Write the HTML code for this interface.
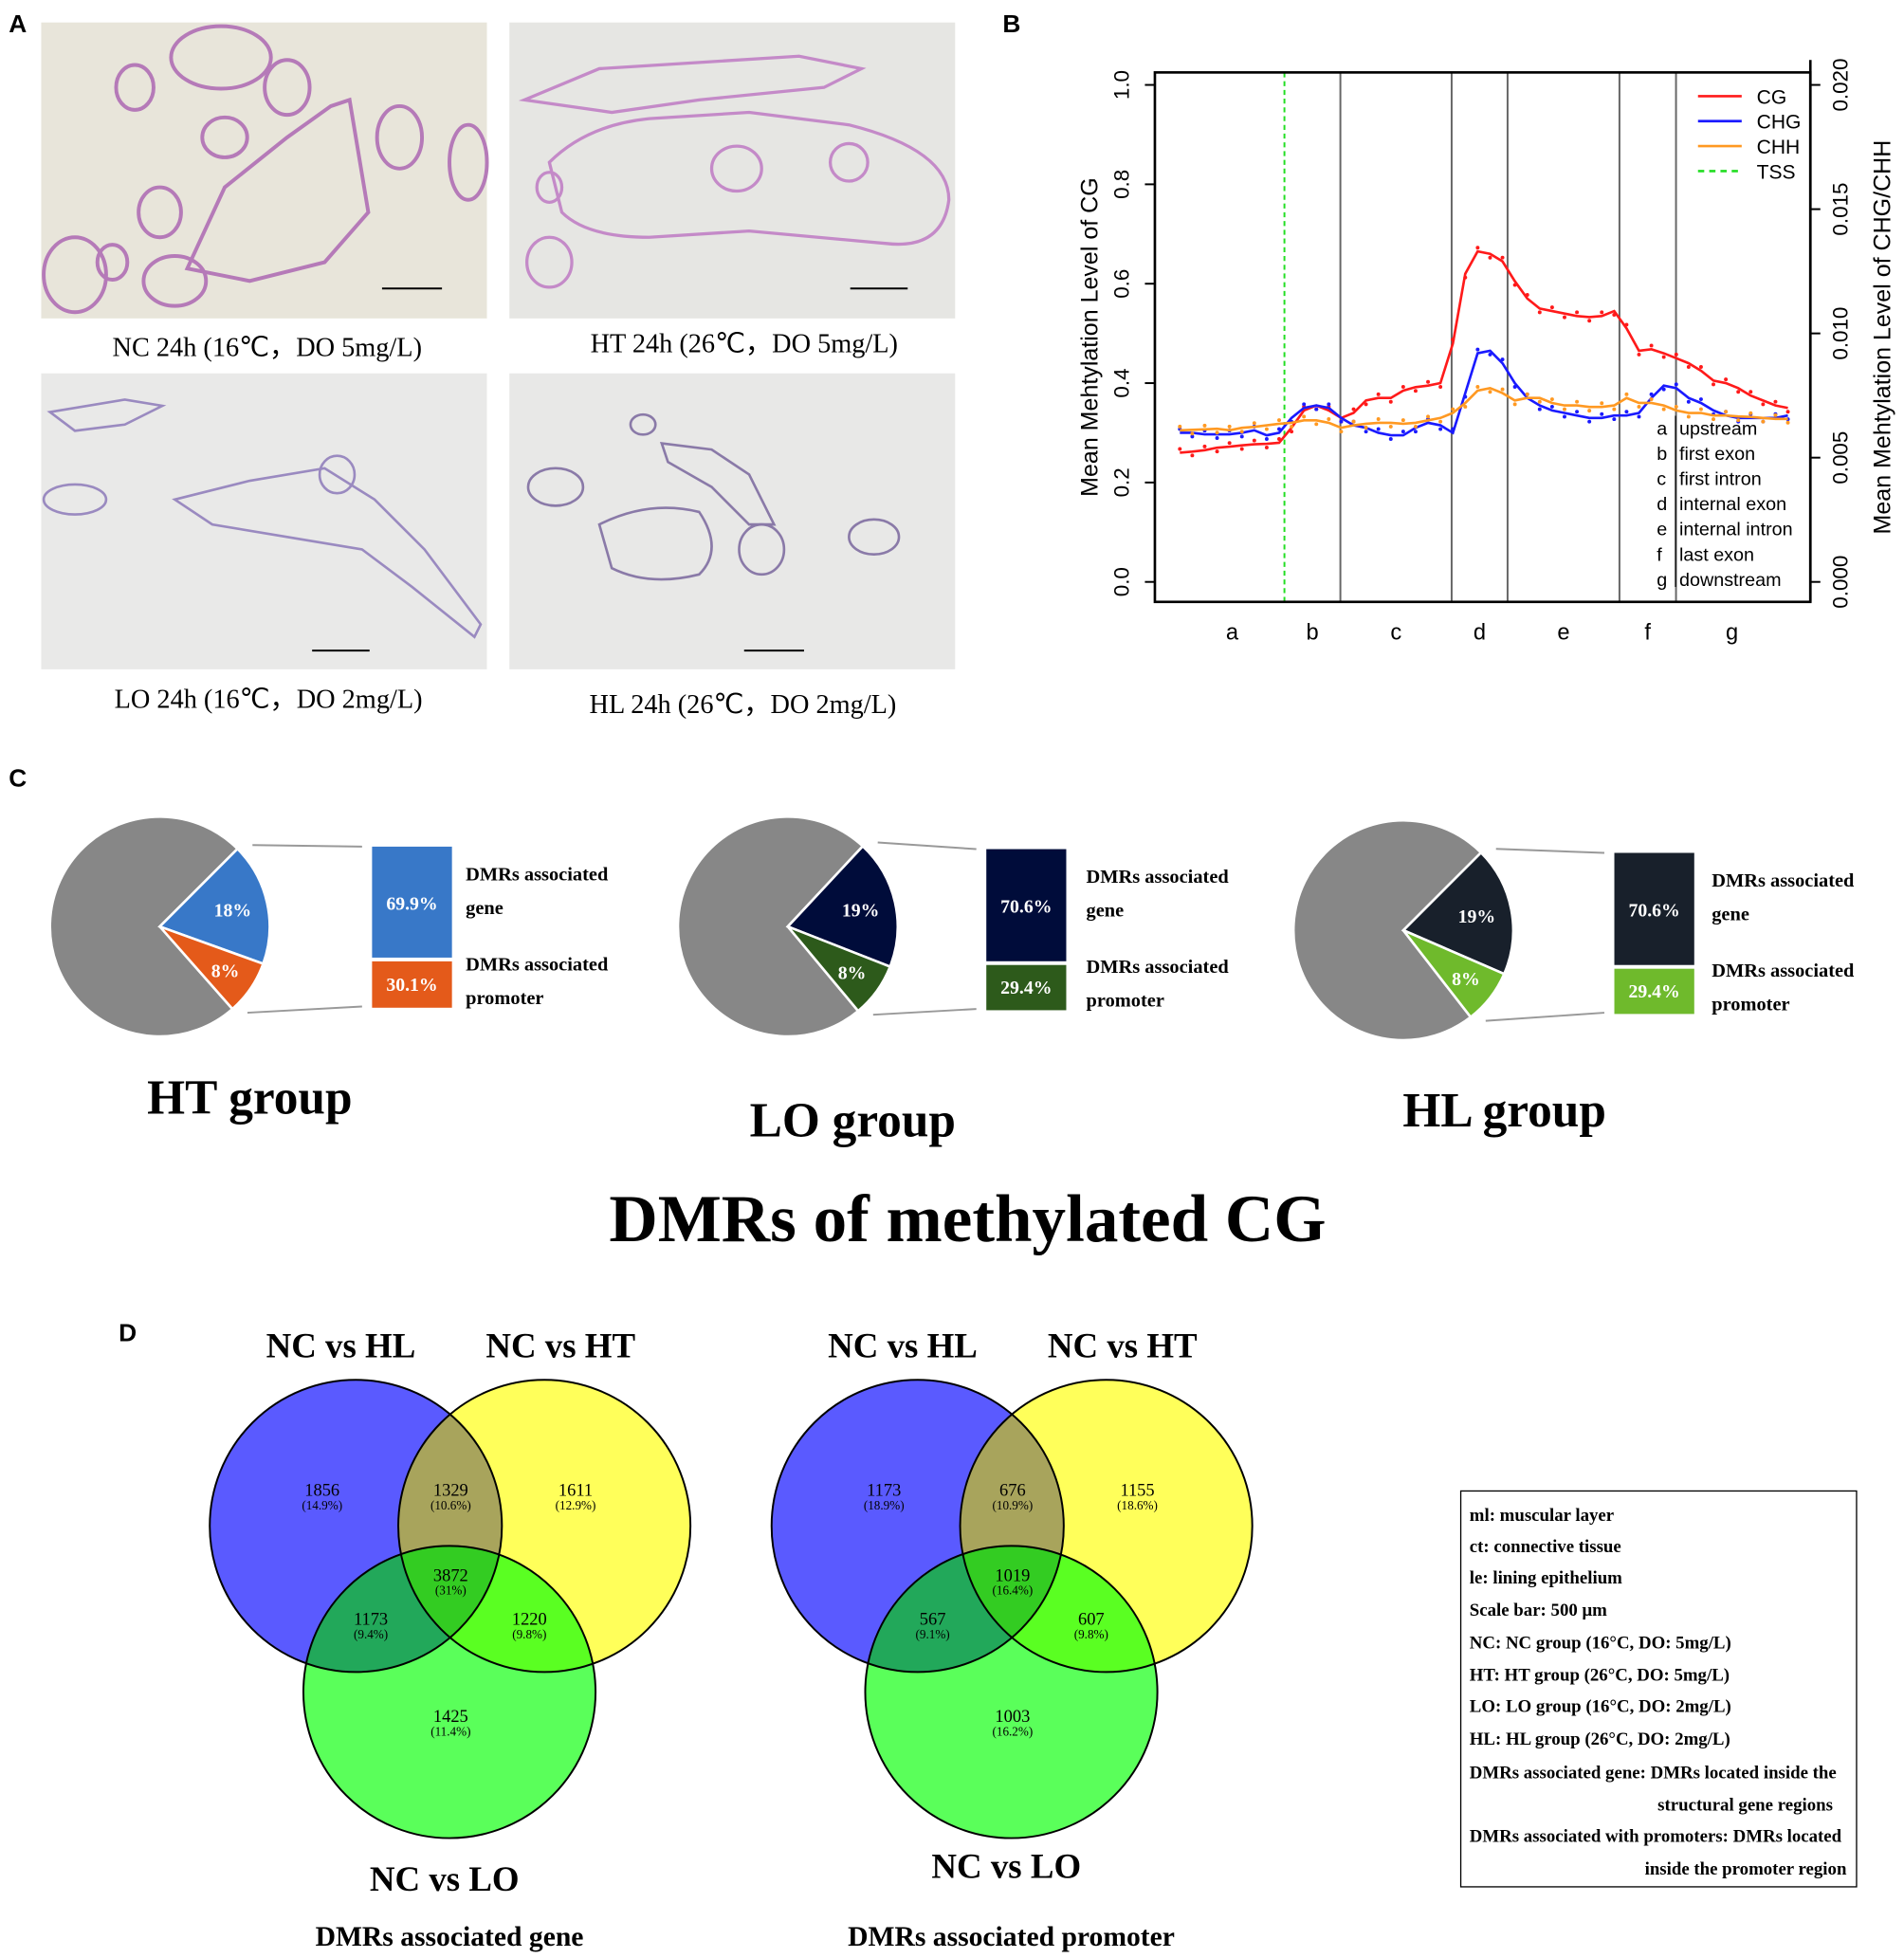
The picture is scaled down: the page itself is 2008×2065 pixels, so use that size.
<!DOCTYPE html>
<html><head><meta charset="utf-8"><style>
html,body{margin:0;padding:0;background:#fff;}
svg{display:block;}
.serif{font-family:"Liberation Serif",serif;}
.sans{font-family:"Liberation Sans",sans-serif;}
</style></head><body>
<svg id="fig" width="2008" height="2065" viewBox="0 0 1525 1568" preserveAspectRatio="none" xmlns="http://www.w3.org/2000/svg">
<rect width="1525" height="1568" fill="#fff"/>

<!-- Panel A -->
<g>
<text x="7" y="26" class="sans" font-weight="bold" font-size="20">A</text>
<g>
<rect x="33" y="18" width="357" height="237" fill="#e8e5da"/>
<g fill="none" stroke="#b57ab8" stroke-width="3">
<path d="M150,215 L180,150 L230,110 L265,85 L280,80 L295,170 L260,210 L200,225 Z"/>
<ellipse cx="128" cy="170" rx="17" ry="20"/><ellipse cx="108" cy="70" rx="15" ry="18"/>
<ellipse cx="180" cy="110" rx="18" ry="16"/><ellipse cx="90" cy="210" rx="12" ry="14"/>
<ellipse cx="230" cy="70" rx="18" ry="22"/><ellipse cx="177" cy="46" rx="40" ry="25"/>
<ellipse cx="60" cy="220" rx="25" ry="30"/><ellipse cx="375" cy="130" rx="15" ry="30"/>
<ellipse cx="140" cy="225" rx="25" ry="20"/><ellipse cx="320" cy="110" rx="18" ry="25"/>
</g>
<line x1="306" y1="231" x2="354" y2="231" stroke="#000" stroke-width="1.5"/>
</g>
<g>
<rect x="408" y="18" width="357" height="237" fill="#e6e6e3"/>
<g fill="none" stroke="#c48ac8" stroke-width="2.5">
<path d="M440,130 Q470,100 520,95 L600,90 L680,100 Q760,120 760,160 Q755,200 710,195 L600,185 L520,190 Q470,190 450,170 Z"/>
<path d="M420,80 L480,55 L560,50 L640,45 L690,55 L660,70 L560,80 L490,90 Z"/>
<ellipse cx="440" cy="210" rx="18" ry="20"/><ellipse cx="590" cy="135" rx="20" ry="18"/>
<ellipse cx="680" cy="130" rx="15" ry="15"/><ellipse cx="440" cy="150" rx="10" ry="12"/>
</g>
<line x1="681" y1="231" x2="727" y2="231" stroke="#000" stroke-width="1.5"/>
</g>
<g>
<rect x="33" y="299" width="357" height="237" fill="#e9e9e8"/>
<g fill="none" stroke="#9a8ac0" stroke-width="2">
<path d="M140,400 L200,385 L260,375 L300,400 L340,440 L385,500 L380,510 L330,470 L290,440 L230,430 L170,420 Z"/>
<path d="M40,330 L100,320 L130,325 L100,340 L60,345 Z"/>
<ellipse cx="60" cy="400" rx="25" ry="12"/><ellipse cx="270" cy="380" rx="14" ry="15"/>
</g>
<line x1="250" y1="521" x2="296" y2="521" stroke="#000" stroke-width="1.5"/>
</g>
<g>
<rect x="408" y="299" width="357" height="237" fill="#e8e8e7"/>
<g fill="none" stroke="#8a7aa8" stroke-width="2">
<path d="M480,420 Q520,400 560,410 Q580,440 560,460 Q520,470 490,455 Z"/>
<path d="M530,355 L570,360 L600,380 L620,420 L600,420 L570,390 L535,370 Z"/>
<ellipse cx="445" cy="390" rx="22" ry="15"/><ellipse cx="700" cy="430" rx="20" ry="14"/>
<ellipse cx="610" cy="440" rx="18" ry="20"/><ellipse cx="515" cy="340" rx="10" ry="8"/>
</g>
<line x1="596" y1="521" x2="644" y2="521" stroke="#000" stroke-width="1.5"/>
</g>
<g class="serif" font-size="21.5" text-anchor="middle" fill="#000">
<text x="214" y="285">NC 24h (16℃，DO 5mg/L)</text>
<text x="596" y="282">HT 24h (26℃，DO 5mg/L)</text>
<text x="215" y="567">LO 24h (16℃，DO 2mg/L)</text>
<text x="595" y="571">HL 24h (26℃，DO 2mg/L)</text>
</g>
</g>

<!-- Panel B -->
<g>
<text x="803" y="26" class="sans" font-weight="bold" font-size="20">B</text>
<g id="chartB" class="sans"></g>
</g>

<!-- Panel C -->
<g>
<text x="7" y="630" class="sans" font-weight="bold" font-size="20">C</text>
<g id="pies"></g>
<text x="200" y="892" class="serif" font-weight="bold" font-size="39" text-anchor="middle">HT group</text>
<text x="683" y="910" class="serif" font-weight="bold" font-size="39" text-anchor="middle">LO group</text>
<text x="1205" y="902" class="serif" font-weight="bold" font-size="39" text-anchor="middle">HL group</text>
<text x="775" y="994" class="serif" font-weight="bold" font-size="54" text-anchor="middle">DMRs of methylated CG</text>
</g>

<!-- Panel D -->
<g>
<text x="95" y="1074" class="sans" font-weight="bold" font-size="20">D</text>
<g id="venns"></g>
<g class="serif" font-weight="bold" font-size="14.3">
<rect x="1170" y="1194" width="317" height="317" fill="#fff" stroke="#000" stroke-width="1"/>
<text x="1177" y="1218">ml: muscular layer</text>
<text x="1177" y="1243">ct: connective tissue</text>
<text x="1177" y="1268">le: lining epithelium</text>
<text x="1177" y="1294">Scale bar: 500 μm</text>
<text x="1177" y="1320">NC: NC group (16°C, DO: 5mg/L)</text>
<text x="1177" y="1346">HT: HT group (26°C, DO: 5mg/L)</text>
<text x="1177" y="1371">LO: LO group (16°C, DO: 2mg/L)</text>
<text x="1177" y="1397">HL: HL group (26°C, DO: 2mg/L)</text>
<text x="1177" y="1424">DMRs associated gene: DMRs located inside the</text>
<text x="1468" y="1450" text-anchor="end">structural gene regions</text>
<text x="1177" y="1475">DMRs associated with promoters: DMRs located</text>
<text x="1479" y="1501" text-anchor="end">inside the promoter region</text>
</g>
</g>
</svg>
<script>
// ===== Panel B data =====
const regionLabels = ['a','b','c','d','e','f','g'];
const yTicksLeft = [0.0,0.2,0.4,0.6,0.8,1.0];
const yTicksRight = [0.000,0.005,0.010,0.015,0.020];
const cgValues = [0.26,0.262,0.265,0.27,0.272,0.275,0.277,0.278,0.28,0.31,0.345,0.355,0.345,0.33,0.34,0.365,0.37,0.37,0.385,0.392,0.395,0.40,0.48,0.62,0.665,0.66,0.645,0.605,0.57,0.55,0.545,0.54,0.535,0.533,0.535,0.545,0.51,0.465,0.468,0.46,0.45,0.44,0.425,0.405,0.40,0.39,0.375,0.365,0.355,0.35];
const chgValues = [0.0060,0.0060,0.00594,0.00594,0.00594,0.0060,0.0061,0.0059,0.0060,0.0066,0.0070,0.0071,0.0070,0.0066,0.0063,0.0062,0.0060,0.0059,0.0059,0.0062,0.0064,0.0063,0.0060,0.0076,0.0092,0.0093,0.0088,0.0080,0.0074,0.0071,0.0069,0.0068,0.0067,0.0066,0.0066,0.0067,0.0067,0.0068,0.0074,0.0079,0.0078,0.0074,0.0072,0.0069,0.0067,0.0066,0.0066,0.0066,0.0066,0.0067];
const chhValues = [0.0061,0.00612,0.00614,0.00616,0.0061,0.0062,0.00624,0.0063,0.00636,0.0064,0.0065,0.0065,0.0064,0.0062,0.0063,0.00636,0.0064,0.0064,0.00636,0.0064,0.0065,0.0066,0.0068,0.0072,0.0077,0.0078,0.0076,0.0073,0.0074,0.0074,0.0072,0.0071,0.0071,0.00704,0.00704,0.0071,0.0074,0.0072,0.0072,0.0071,0.0069,0.0068,0.0068,0.0067,0.0067,0.00666,0.00664,0.0066,0.00656,0.00656];
const boundaryPositions = [0.172,0.264,0.447,0.539,0.723,0.816]; // fraction of data span (TSS first)
const NS='http://www.w3.org/2000/svg';
function mk(tag,attrs,parent){const e=document.createElementNS(NS,tag);for(const k in attrs)e.setAttribute(k,attrs[k]);if(parent)parent.appendChild(e);return e;}
(function(){
 const g=document.getElementById('chartB');
 const L=925,R=1450,T=58,B=482,x0=945,x1=1432;
 const yL=v=>466-398*v;
 const yR=v=>466-398*(v/0.02);
 const xI=i=>x0+(x1-x0)*i/(cgValues.length-1);
 const xF=f=>x0+(x1-x0)*f;
 boundaryPositions.forEach((f,i)=>{
  const ln=mk('line',{x1:xF(f),x2:xF(f),y1:T,y2:B,stroke:i==0?'#22dd22':'#666','stroke-width':1.5,'stroke-dasharray':i==0?'4,3':'none'},g);
  
  
 });
 const box=mk('rect',{x:L,y:T,width:R-L,height:B-T,fill:'none',stroke:'#000','stroke-width':2},g);
 
 
 yTicksLeft.forEach(v=>{
  mk('line',{x1:L-8,x2:L,y1:yL(v),y2:yL(v),stroke:'#000','stroke-width':1.5},g);
  const t=mk('text',{x:0,y:0,'font-size':17,'text-anchor':'middle',transform:`translate(904,${yL(v)}) rotate(-90)`},g);
  t.textContent=v.toFixed(1);
  
  
 });
 yTicksRight.forEach(v=>{
  mk('line',{x1:R,x2:R+8,y1:yR(v),y2:yR(v),stroke:'#000','stroke-width':1.5},g);
  const t=mk('text',{x:0,y:0,'font-size':17,'text-anchor':'middle',transform:`translate(1480,${yR(v)}) rotate(-90)`},g);
  t.textContent=v.toFixed(3);
  
  
 });
 mk('line',{x1:R,x2:R,y1:T-10,y2:B,stroke:'#000','stroke-width':2},g);
 const lt=mk('text',{x:0,y:0,'font-size':19,'text-anchor':'middle',transform:'translate(879,270) rotate(-90)'},g);
 lt.textContent='Mean Mehtylation Level of CG';
 
 
 const rt=mk('text',{x:0,y:0,'font-size':19,'text-anchor':'middle',transform:'translate(1514,270) rotate(-90)'},g);
 rt.textContent='Mean Mehtylation Level of CHG/CHH';
 
 
 const edges=[0].concat(boundaryPositions,[1]);
 regionLabels.forEach((r,i)=>{
  const t=mk('text',{x:xF((edges[i]+edges[i+1])/2),y:512,'font-size':18,'text-anchor':'middle'},g);
  t.textContent=r;
  
  
 });
 const series=[[cgValues,yL,'#ff1a1a','line-cg'],[chgValues,yR,'#1a1aff','line-chg'],[chhValues,yR,'#ff9922','line-chh']];
 series.forEach(([vals,ys,col,nm])=>{
  const d=vals.map((v,i)=>(i?'L':'M')+xI(i).toFixed(1)+','+ys(v).toFixed(1)).join(' ');
  const p=mk('path',{d:d,fill:'none',stroke:col,'stroke-width':2},g);
  
  
  vals.forEach((v,i)=>{const c=mk('circle',{cx:xI(i),cy:ys(v)+(i%2?3:-3),r:1.5,fill:col},g);
   
   });
 });
 const leg=[['CG','#ff1a1a',0],['CHG','#1a1aff',0],['CHH','#ff9922',0],['TSS','#22dd22',1]];
 leg.forEach(([n,c,dash],i)=>{
  const y=77+i*20;
  mk('line',{x1:1360,x2:1395,y1:y,y2:y,stroke:c,'stroke-width':2,'stroke-dasharray':dash?'5,4':'none'},g);
  const t=mk('text',{x:1407,y:y+6,'font-size':16},g);t.textContent=n;
  
  
 });
 const reg=[['a','upstream'],['b','first exon'],['c','first intron'],['d','internal exon'],['e','internal intron'],['f','last exon'],['g','downstream']];
 reg.forEach(([a,b],i)=>{
  const y=348+i*20.2;
  const t1=mk('text',{x:1327,y:y,'font-size':15},g);t1.textContent=a;
  const t2=mk('text',{x:1345,y:y,'font-size':15},g);t2.textContent=b;
  
  
 });
 mk('line',{x1:1342,x2:1342,y1:333,y2:470,stroke:'#000','stroke-width':1},g);
})();

// ===== Panel C data =====
const pieGroups = ['HT','LO','HL'];
const genePct = [18,19,19];
const promoterPct = [8,8,8];
const geneShare = [69.9,70.6,70.6];
const promoterShare = [30.1,29.4,29.4];
(function(){
 const g=document.getElementById('pies');
 const cfg=[{cx:128,cy:742,bx:298,by:678,tx:373,c1:'#3878c8',c2:'#e45a1a',start:-45},
            {cx:631,cy:742,bx:790,by:680,tx:870,c1:'#000c3a',c2:'#2d5a1b',start:-47},
            {cx:1124,cy:745,bx:1293,by:683,tx:1371,c1:'#18202b',c2:'#6fba2c',start:-45}];
 const r=88;
 const pt=(c,a)=>[c.cx+r*Math.cos(a*Math.PI/180),c.cy+r*Math.sin(a*Math.PI/180)];
 function arc(c,a0,a1,fill,name){
  const [x0,y0]=pt(c,a0),[x1,y1]=pt(c,a1);const large=(a1-a0)>180?1:0;
  const p=mk('path',{d:`M${c.cx},${c.cy} L${x0},${y0} A${r},${r} 0 ${large} 1 ${x1},${y1} Z`,fill:fill,stroke:'#fff','stroke-width':2},g);
  
  
 }
 pieGroups.forEach((grp,i)=>{
  const c=cfg[i];
  const a1=c.start+genePct[i]*3.6, a2=a1+promoterPct[i]*3.6;
  arc(c,a2,c.start+360,'#878787','pie-other-'+grp.toLowerCase());
  arc(c,c.start,a1,c.c1,'pie-gene-'+grp.toLowerCase());
  arc(c,a1,a2,c.c2,'pie-promoter-'+grp.toLowerCase());
  const mg=(c.start+a1)/2, mp=(a1+a2)/2;
  const tg=mk('text',{x:c.cx+r*0.68*Math.cos(mg*Math.PI/180),y:c.cy+r*0.68*Math.sin(mg*Math.PI/180)+5,'font-size':15,'font-weight':'bold',fill:'#fff','text-anchor':'middle',class:'serif'},g);
  tg.textContent=genePct[i]+'%';
  const tp=mk('text',{x:c.cx+r*0.72*Math.cos(mp*Math.PI/180),y:c.cy+r*0.72*Math.sin(mp*Math.PI/180)+5,'font-size':15,'font-weight':'bold',fill:'#fff','text-anchor':'middle',class:'serif'},g);
  tp.textContent=promoterPct[i]+'%';
  const H=130, hg=H*geneShare[i]/100, hp=H*promoterShare[i]/100;
  const b1=mk('rect',{x:c.bx,y:c.by,width:64,height:hg-2,fill:c.c1},g);
  
  
  const b2=mk('rect',{x:c.bx,y:c.by+hg+1,width:64,height:hp-2,fill:c.c2},g);
  
  
  const t1=mk('text',{x:c.bx+32,y:c.by+hg/2+5,'font-size':15,'font-weight':'bold',fill:'#fff','text-anchor':'middle',class:'serif'},g);t1.textContent=geneShare[i].toFixed(1)+'%';
  const t2=mk('text',{x:c.bx+32,y:c.by+hg+hp/2+5,'font-size':15,'font-weight':'bold',fill:'#fff','text-anchor':'middle',class:'serif'},g);t2.textContent=promoterShare[i].toFixed(1)+'%';
  const [ux,uy]=pt(c,c.start),[lx,ly]=pt(c,a2);
  mk('line',{x1:ux+12,y1:uy-3,x2:c.bx-8,y2:c.by,stroke:'#999','stroke-width':1.5},g);
  mk('line',{x1:lx+12,y1:ly+3,x2:c.bx-8,y2:c.by+H-2,stroke:'#999','stroke-width':1.5},g);
  [['DMRs associated',27],['gene',54],['DMRs associated',99],['promoter',126]].forEach(([s,dy])=>{
   const t=mk('text',{x:c.tx,y:c.by+dy,'font-size':15.5,'font-weight':'bold',class:'serif'},g);t.textContent=s;
   
   
  });
 });
})();

// ===== Panel D data =====
const vennSets = ['NC vs HL','NC vs HT','NC vs LO'];
const geneCounts = [1856,1329,1611,3872,1173,1220,1425];
const genePcts = ['(14.9%)','(10.6%)','(12.9%)','(31%)','(9.4%)','(9.8%)','(11.4%)'];
const promCounts = [1173,676,1155,1019,567,607,1003];
const promPcts = ['(18.9%)','(10.9%)','(18.6%)','(16.4%)','(9.1%)','(9.8%)','(16.2%)'];
(function(){
 const g=document.getElementById('venns');
 const defs=mk('defs',{},g);
 function venn(ox,counts,pcts,caption,labelY,idx){
  const A=[285+ox,1222],Bc=[436+ox,1222],C=[360+ox,1355],r=117;
  ['a','b','c'].forEach((n,k)=>{const cp=mk('clipPath',{id:'cl'+n+idx},defs);const cc=[A,Bc,C][k];mk('circle',{cx:cc[0],cy:cc[1],r:r},cp);});
  const ci=(c,f,clip)=>{const e=mk('circle',{cx:c[0],cy:c[1],r:r,fill:f},g);if(clip)e.setAttribute('clip-path','url(#'+clip+idx+')');return e;};
  const e1=ci(A,'#5a5aff');
  const e2=ci(Bc,'#ffff5a');
  const e3=ci(C,'#5aff5a');
  ci(Bc,'#a8a45c','cla');
  ci(C,'#22a85a','cla');
  ci(C,'#5aff22','clb');
  const gg=mk('g',{'clip-path':'url(#cla'+idx+')'},g);
  mk('circle',{cx:C[0],cy:C[1],r:r,fill:'#33cc22','clip-path':'url(#clb'+idx+')'},gg);
  [A,Bc,C].forEach(c=>mk('circle',{cx:c[0],cy:c[1],r:r,fill:'none',stroke:'#000','stroke-width':1.5},g));
  const pos=[[A[0]-27,1193],[A[0]+76,1193],[Bc[0]+25,1193],[A[0]+76,1261],[A[0]+12,1296],[Bc[0]-12,1296],[C[0]+1,1374]];
  counts.forEach((v,i)=>{
   const t=mk('text',{x:pos[i][0],y:pos[i][1]+5,'font-size':14,'text-anchor':'middle',class:'serif'},g);t.textContent=v;
   
   
   const p=mk('text',{x:pos[i][0],y:pos[i][1]+16,'font-size':10,'text-anchor':'middle',class:'serif'},g);p.textContent=pcts[i];
  });
  const tl=[[A[0]-12,1087],[Bc[0]+13,1087],[C[0]-4,labelY]];
  vennSets.forEach((s,i)=>{
   const t=mk('text',{x:tl[i][0],y:tl[i][1],'font-size':28,'font-weight':'bold','text-anchor':'middle',class:'serif'},g);t.textContent=s;
   
   
  });
  const cap=mk('text',{x:C[0],y:1558,'font-size':22.5,'font-weight':'bold','text-anchor':'middle',class:'serif'},g);cap.textContent=caption;
  
  
 }
 venn(0,geneCounts,genePcts,'DMRs associated gene',1514,0);
 venn(450,promCounts,promPcts,'DMRs associated promoter',1504,1);
})();
</script>
</body></html>
